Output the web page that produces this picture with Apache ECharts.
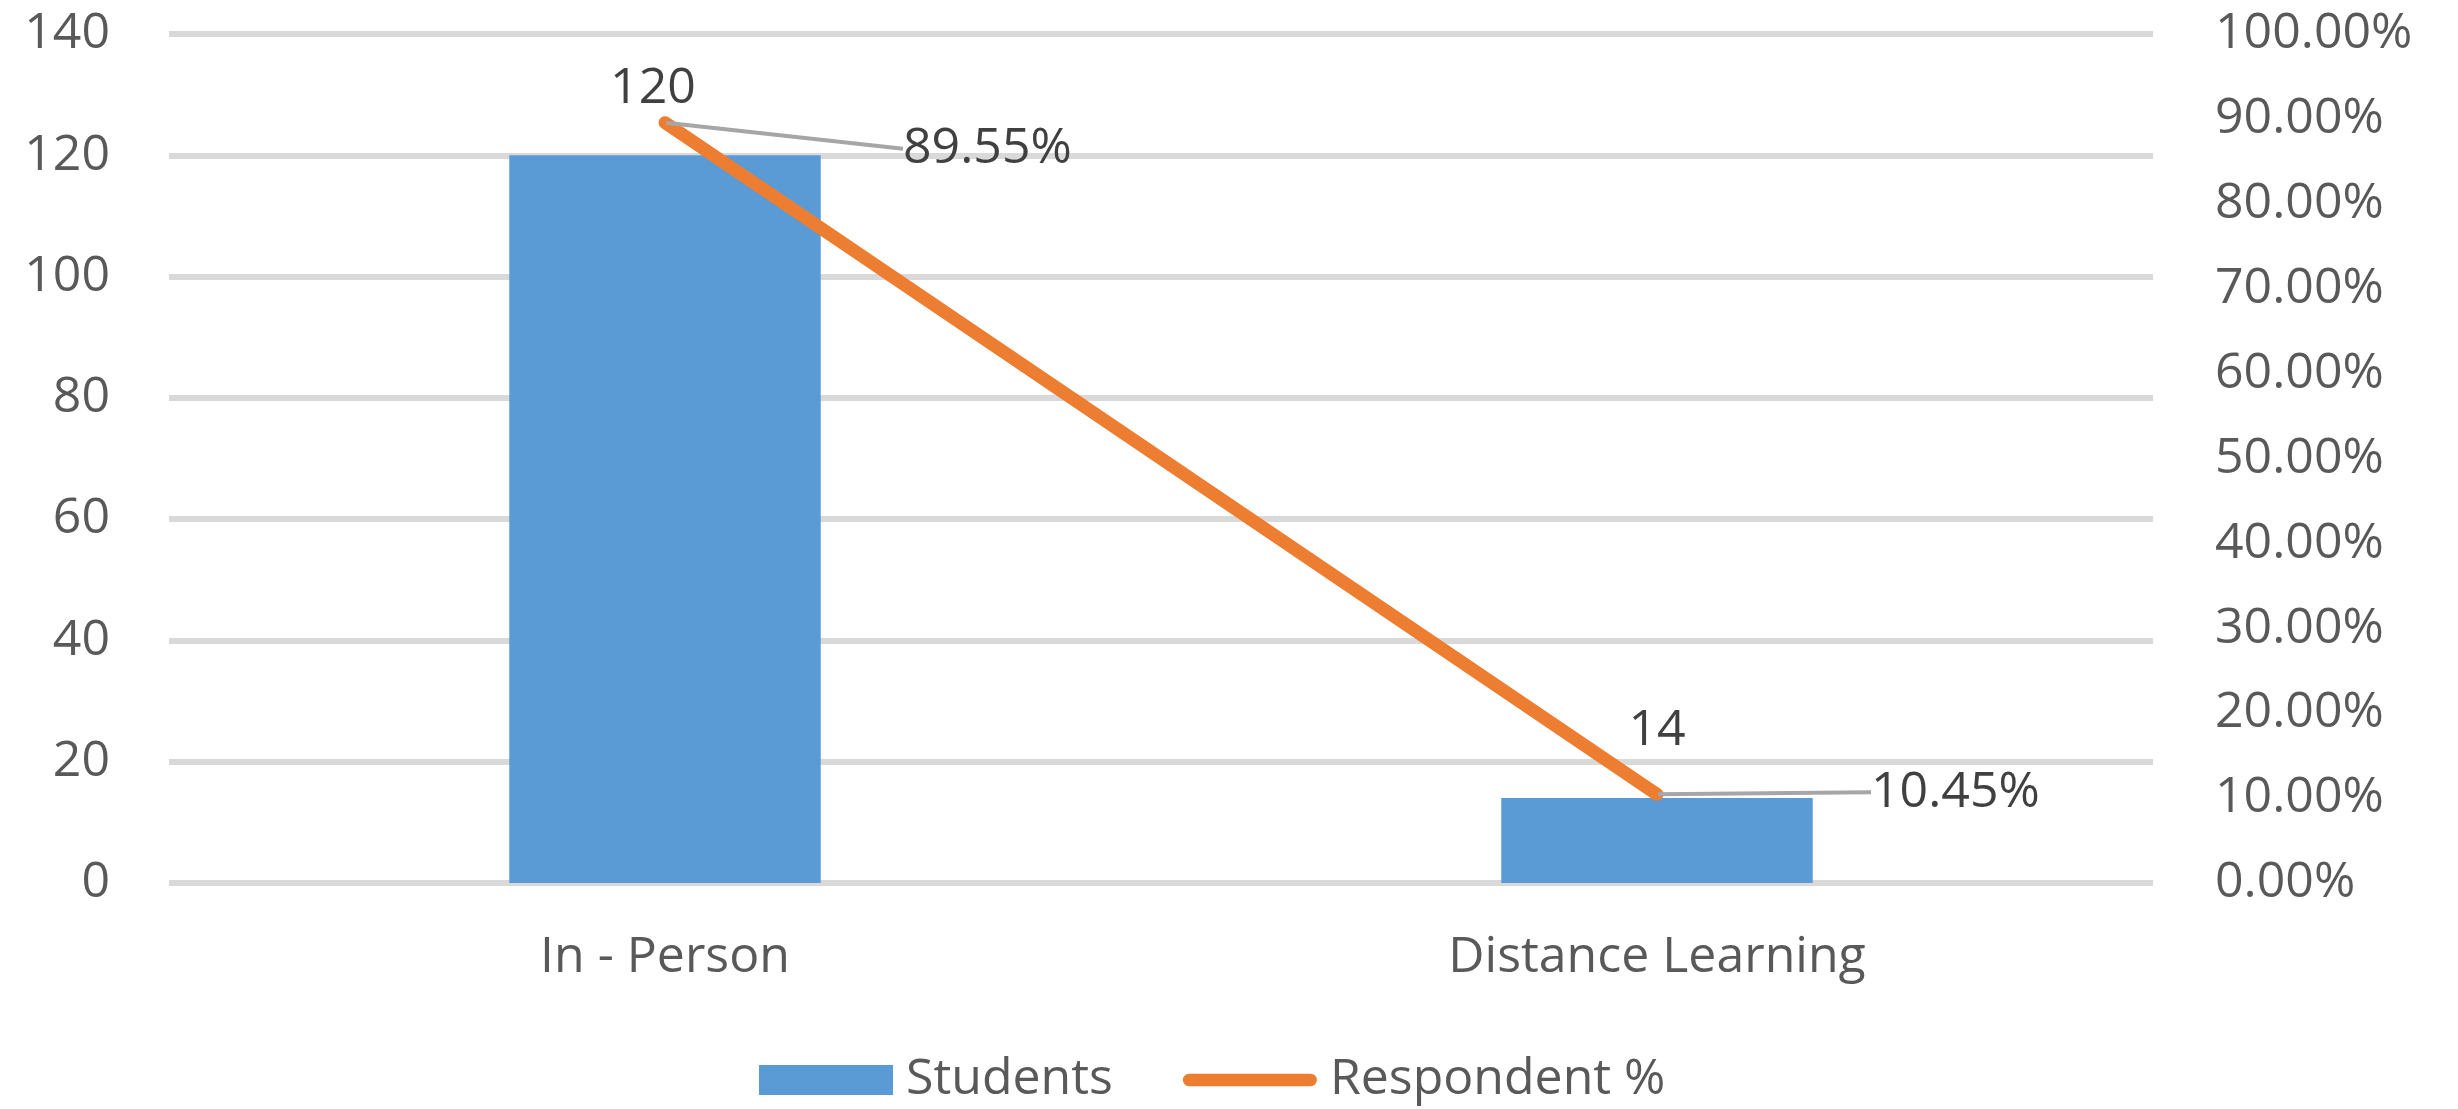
<!DOCTYPE html>
<html>
<head>
<meta charset="utf-8">
<script src="https://cdn.jsdelivr.net/npm/echarts@6/dist/echarts.min.js"></script>
<style>
html,body{margin:0;padding:0;background:#fff;}
#c{width:2458px;height:1109px;}
</style>
</head>
<body>
<div id="c"></div>
<script>
const categories = ['In - Person', 'Distance Learning'];
const students = [120, 14];
const respondentPct = [0.8955, 0.1045];
const leftTicks = { min: 0, max: 140, interval: 20 };
const rightTicks = { min: 0, max: 1, interval: 0.1 };

const FONT = 'Open Sans';
const TXT = '#595959';
const FS = 50;

const chart = echarts.init(document.getElementById('c'));
chart.setOption({
  backgroundColor: '#ffffff',
  animation: false,
  textStyle: { fontFamily: FONT },
  grid: { left: 169, right: 305, top: 34, bottom: 226 },
  legend: {
    data: [
      { name: 'Students', icon: 'rect' },
      { name: 'Respondent %', icon: 'path://M7,0 L143,0 A7,7 0 0 1 143,14 L7,14 A7,7 0 0 1 7,0 Z', symbolKeepAspect: true }
    ],
    top: 1050,
    left: 754,
    itemWidth: 134,
    itemHeight: 30,
    itemGap: 70,
    textStyle: { fontFamily: FONT, fontSize: FS, color: TXT, padding: [0, 0, 0, 8] }
  },
  xAxis: {
    type: 'category',
    data: categories,
    axisLine: { show: false },
    axisTick: { show: false },
    axisLabel: { fontFamily: FONT, fontSize: FS, color: TXT, margin: 50 }
  },
  yAxis: [
    {
      type: 'value',
      min: leftTicks.min, max: leftTicks.max, interval: leftTicks.interval,
      axisLine: { show: false }, axisTick: { show: false },
      axisLabel: { fontFamily: FONT, fontSize: FS, color: TXT, margin: 59 },
      splitLine: { lineStyle: { color: '#d9d9d9', width: 6 } }
    },
    {
      type: 'value',
      min: rightTicks.min, max: rightTicks.max, interval: rightTicks.interval,
      axisLine: { show: false }, axisTick: { show: false },
      splitLine: { show: false },
      axisLabel: {
        fontFamily: FONT, fontSize: FS, color: TXT, margin: 62,
        formatter: v => (v * 100).toFixed(2) + '%'
      }
    }
  ],
  series: [
    {
      name: 'Students',
      type: 'bar',
      data: students,
      barWidth: '31.4%',
      itemStyle: { color: '#5b9bd5' },
      label: {
        show: true, position: 'top', distance: 42,
        fontFamily: FONT, fontSize: FS, color: '#404040'
      },
      labelLayout: p => (p.dataIndex === 0 ? { dx: -12 } : {})
    },
    {
      name: 'Respondent %',
      type: 'line',
      yAxisIndex: 1,
      data: respondentPct,
      symbol: 'circle',
      symbolSize: 2,
      itemStyle: { color: '#ed7d31' },
      lineStyle: { color: '#ed7d31', width: 13, cap: 'round' },
      label: {
        show: true, position: 'right', distance: 5,
        fontFamily: FONT, fontSize: FS, color: '#404040',
        formatter: p => (p.value * 100).toFixed(2) + '%'
      },
      labelLine: { show: true, lineStyle: { color: '#a6a6a6', width: 4 } },
      labelLayout: p => (p.dataIndex === 0 ? { dx: 232, dy: 26 } : { dx: 208, dy: -2 })
    }
  ]
});
</script>
</body>
</html>
